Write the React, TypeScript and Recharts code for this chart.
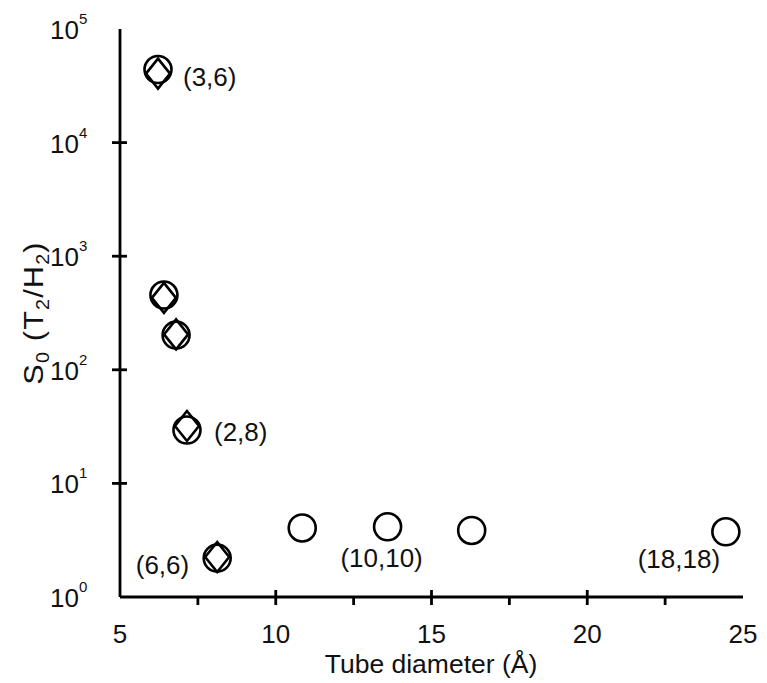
import { Scatter, ScatterChart, XAxis, YAxis, LabelList } from "recharts";

// tube diameters (Å) and selectivity S0
const diameters = [6.22, 6.41, 6.8, 7.15, 8.12, 10.85, 13.59, 16.29, 24.45];
const circleS0 = [44000, 455, 202, 29.5, 2.2, 4.05, 4.15, 3.85, 3.75];
const diamondS0 = [40500, 430, 205, 32, 2.25];
const tubeLabels = ["(3,6)", "", "", "(2,8)", "(6,6)", "", "(10,10)", "", "(18,18)"];
const xTicks = [5, 7.5, 10, 12.5, 15, 17.5, 20, 22.5, 25];
const yTicks = [1, 10, 100, 1000, 10000, 100000];

// where each tube label sits relative to its circle
const labelOffset: Record<string, { dx: number; dy: number; anchor: "start" | "end" | "middle" }> = {
  "(3,6)": { dx: 25, dy: 16, anchor: "start" },
  "(2,8)": { dx: 27, dy: 11, anchor: "start" },
  "(6,6)": { dx: -28, dy: 16, anchor: "end" },
  "(10,10)": { dx: -6, dy: 40, anchor: "middle" },
  "(18,18)": { dx: -47, dy: 36, anchor: "middle" },
};

const circles = diameters.map((d, i) => ({ d, s: circleS0[i], label: tubeLabels[i] }));
const diamonds = diamondS0.map((s, i) => ({ d: diameters[i], s }));

const FONT = "'Liberation Sans', Arial, Helvetica, sans-serif";
const INK = "#111";

const CircleMark = (p: any) => (
  <circle cx={p.cx} cy={p.cy} r={13.5} fill="none" stroke="#000" strokeWidth={2.6} />
);

const DiamondMark = (p: any) => {
  const { cx, cy } = p;
  return (
    <polygon
      points={`${cx},${cy - 15} ${cx + 12},${cy} ${cx},${cy + 15} ${cx - 12},${cy}`}
      fill="none"
      stroke="#000"
      strokeWidth={2.6}
    />
  );
};

const isMajorX = (v: number) => Number.isInteger(v / 5);

const BottomTick = (p: any) => {
  const { x, y, payload } = p;
  const v = payload.value;
  const len = isMajorX(v) ? 15 : 8;
  return (
    <g>
      {v !== 5 && v !== 25 && <line x1={x} x2={x} y1={y} y2={y - len} stroke="#000" strokeWidth={2.8} />}
      {isMajorX(v) && (
        <text x={x} y={y + 38} textAnchor="middle" fontSize={26} fontFamily={FONT} fill={INK}>
          {v}
        </text>
      )}
    </g>
  );
};

const TopTick = (p: any) => {
  const { x, y, payload } = p;
  const v = payload.value;
  if (v === 5 || v === 25) return <g />;
  const len = isMajorX(v) ? 15 : 8;
  return <line x1={x} x2={x} y1={y} y2={y + len} stroke="#000" strokeWidth={2.8} />;
};

const LeftTick = (p: any) => {
  const { x, y, payload } = p;
  const exp = Math.round(Math.log10(payload.value));
  return (
    <g>
      {exp !== 0 && exp !== 5 && <line x1={x} x2={x + 15} y1={y} y2={y} stroke="#000" strokeWidth={2.8} />}
      <text x={x - 33} y={y + 10} textAnchor="end" fontSize={26} fontFamily={FONT} fill={INK}>
        10
      </text>
      <text x={x - 33} y={y - 5} textAnchor="start" fontSize={15} fontFamily={FONT} fill={INK}>
        {exp}
      </text>
    </g>
  );
};

const RightTick = (p: any) => {
  const { x, y, payload } = p;
  const exp = Math.round(Math.log10(payload.value));
  if (exp === 0 || exp === 5) return <g />;
  return <line x1={x} x2={x - 15} y1={y} y2={y} stroke="#000" strokeWidth={2.8} />;
};

const TubeLabel = (p: any) => {
  const { x, y, width, height, value } = p;
  if (!value) return null;
  const o = labelOffset[value];
  const cx = x + width / 2;
  const cy = y + height / 2;
  return (
    <text x={cx + o.dx} y={cy + o.dy} textAnchor={o.anchor} fontSize={26} fontFamily={FONT} fill={INK}>
      {value}
    </text>
  );
};

export default function App() {
  return (
    <div style={{ position: "absolute", left: 0, top: 0, width: 767, height: 683, background: "#fff" }}>
      <ScatterChart width={767} height={683} margin={{ top: 29, right: 24, left: 0, bottom: 0 }}>
        <XAxis
          xAxisId="b"
          type="number"
          dataKey="d"
          domain={[5, 25]}
          ticks={xTicks}
          interval={0}
          height={86}
          allowDataOverflow
          axisLine={{ stroke: "#000", strokeWidth: 2.8 }}
          tickLine={false}
          tick={<BottomTick />}
        />
        <XAxis
          xAxisId="t"
          orientation="top"
          type="number"
          dataKey="d"
          domain={[5, 25]}
          ticks={xTicks}
          interval={0}
          height={0}
          allowDataOverflow
          axisLine={{ stroke: "#000", strokeWidth: 2.8 }}
          tickLine={false}
          tick={<TopTick />}
        />
        <YAxis
          yAxisId="l"
          type="number"
          dataKey="s"
          scale="log"
          domain={[1, 100000]}
          ticks={yTicks}
          interval={0}
          width={120}
          allowDataOverflow
          axisLine={{ stroke: "#000", strokeWidth: 2.8 }}
          tickLine={false}
          tick={<LeftTick />}
        />
        <YAxis
          yAxisId="r"
          orientation="right"
          type="number"
          dataKey="s"
          scale="log"
          domain={[1, 100000]}
          ticks={yTicks}
          interval={0}
          width={0}
          allowDataOverflow
          axisLine={{ stroke: "#000", strokeWidth: 2.8 }}
          tickLine={false}
          tick={<RightTick />}
        />
        <Scatter data={circles} xAxisId="b" yAxisId="l" shape={<CircleMark />} isAnimationActive={false}>
          <LabelList dataKey="label" content={<TubeLabel />} />
        </Scatter>
        <Scatter data={diamonds} xAxisId="b" yAxisId="l" shape={<DiamondMark />} isAnimationActive={false} />
      </ScatterChart>
      <svg style={{ position: "absolute", left: 0, top: 0 }} width={767} height={683}>
        <text x={431} y={673} textAnchor="middle" fontSize={26.5} fontFamily={FONT} fill={INK}>
          Tube diameter (Å)
        </text>
        <text
          transform="translate(43,313) scale(1,1.1) rotate(-90)"
          textAnchor="middle"
          fontSize={28}
          fontFamily={FONT}
          letterSpacing={1}
          fill={INK}
        >
          S<tspan fontSize={18} dy={6}>0</tspan>
          <tspan dy={-6}> (T</tspan>
          <tspan fontSize={18} dy={6}>2</tspan>
          <tspan dy={-6}>/H</tspan>
          <tspan fontSize={18} dy={6}>2</tspan>
          <tspan dy={-6}>)</tspan>
        </text>
      </svg>
    </div>
  );
}
